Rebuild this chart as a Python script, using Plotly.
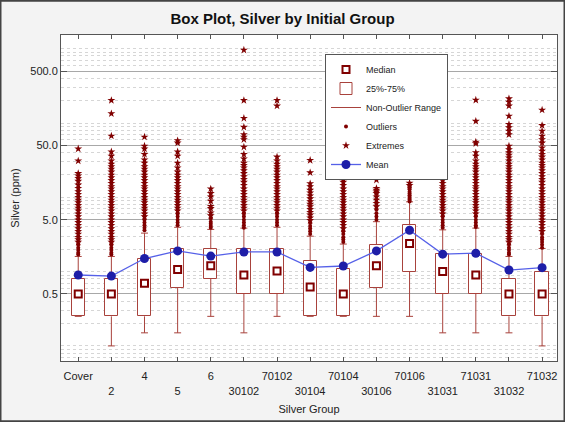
import plotly.graph_objects as go

# ---------------- data ----------------
groups = ["Cover", "2", "4", "5", "6", "30102", "70102", "30104", "70104",
          "30106", "70106", "31031", "71031", "31032", "71032"]
q1 = [0.25, 0.25, 0.25, 0.6, 0.8, 0.5, 0.5, 0.25, 0.25, 0.6, 1.0, 0.5, 0.5, 0.25, 0.25]
median = [0.5, 0.5, 0.7, 1.07, 1.2, 0.9, 1.02, 0.62, 0.5, 1.2, 2.4, 1.0, 0.9, 0.5, 0.5]
q3 = [0.8, 0.8, 1.5, 2.0, 2.0, 2.0, 2.0, 1.4, 1.1, 2.3, 4.2, 1.75, 1.75, 0.8, 1.0]
mean = [0.9, 0.87, 1.5, 1.9, 1.62, 1.84, 1.84, 1.14, 1.19, 1.9, 3.6, 1.72, 1.77, 1.05, 1.13]
upper = [1.6, 1.6, 3.3, 3.95, 3.7, 3.85, 3.95, 3.0, 2.35, 4.7, 8.7, 3.65, 3.85, 1.6, 2.05]
lower = [0.25, 0.1, 0.15, 0.15, 0.25, 0.15, 0.25, 0.25, 0.25, 0.25, 0.25, 0.15, 0.15, 0.15, 0.1]

pts_cover = [45, 31, 21, 19.5, 18, 16.5, 14.7, 13.2, 12, 11, 10, 9.2, 8.5, 7.8, 7.2, 6.6,
             6.0, 5.5, 5.0, 4.6, 4.2, 3.8, 3.5, 3.2, 2.9, 2.7, 2.5, 2.3, 2.1, 1.95, 1.8, 1.7]
pts_2 = [202, 134, 67, 41, 36, 31, 28, 26, 24, 22, 20, 18.5, 17, 15.5, 14, 13, 12, 11, 10,
         9.2, 8.5, 7.8, 7.2, 6.6, 6.0, 5.5, 5.0, 4.6, 4.2, 3.8, 3.5, 3.2, 2.9, 2.7, 2.5,
         2.3, 2.1, 1.95, 1.8, 1.7]
pts_4 = [65, 49, 45, 38, 32, 29, 26, 24, 22, 20, 18.5, 17, 15.5, 14, 13, 12, 11, 10, 9.2,
         8.5, 7.8, 7.2, 6.6, 6.0, 5.5, 5.0, 4.6, 4.2, 3.9, 3.6]
pts_5 = [58, 54, 41, 36, 29, 25, 22, 20, 18.5, 17, 15.5, 14, 13, 12, 11, 10, 9.2, 8.5, 7.8,
         7.2, 6.6, 6.0, 5.5, 5.0, 4.6, 4.2]
pts_6 = [13, 11.3, 10.2, 8.9, 7.6, 7.1, 6.2, 5.7, 5.2, 4.7, 4.4, 4.1, 3.9]
pts_30102 = [962, 202, 116, 88, 70, 65, 60, 47.6, 38, 33, 29, 27, 25, 23, 21, 19, 17.5, 16,
             14.5, 13, 12, 11, 10, 9.2, 8.5, 7.8, 7.2, 6.6, 6.0, 5.5, 5.0, 4.6, 4.2, 3.9]
pts_70102 = [202, 170, 35, 31, 28, 26, 24, 22, 20, 18.5, 17, 15.5, 14, 13, 12, 11, 10, 9.2,
             8.5, 7.8, 7.2, 6.6, 6.0, 5.5, 5.0, 4.6, 4.2]
pts_30104 = [31.5, 21.5, 15.3, 14, 12.5, 11.5, 10.5, 9.6, 8.8, 8.1, 7.5, 6.9, 6.3, 5.8, 5.3,
             4.9, 4.5, 4.1, 3.8, 3.5, 3.2]
pts_70104 = [53, 28, 21, 17.6, 16, 14.5, 13, 12, 11, 10, 9.2, 8.5, 7.8, 7.2, 6.6, 6.0, 5.5,
             5.0, 4.6, 4.2, 3.8, 3.5, 3.2, 2.9, 2.7, 2.5]
pts_30106 = [28, 21, 17.1, 13.2, 12.5, 11.9, 11.3, 10.2, 9.2, 8.3, 7.5, 6.8, 6.1, 5.5, 5.0]
pts_70106 = [29, 27, 21.5, 19.5, 15.6, 14.5, 13.8, 12.8, 11.9, 11.3, 10.7, 10.1, 9.6, 9.2, 8.8]
pts_31031 = [204, 118, 109, 99, 89, 78, 67, 60, 54, 49, 45, 41.5, 38, 36, 33, 31, 28, 26, 24,
             22, 20, 18.5, 17, 15.5, 14, 13, 12, 11, 10, 9.2, 8.5, 7.8, 7.2, 6.6, 6.0, 5.5,
             5.0, 4.6, 4.2, 3.9]
pts_71031 = [204, 106, 55.5, 53, 40, 36, 31, 28, 26, 24, 22, 20, 18.5, 17, 15.5, 14, 13, 12,
             11, 10, 9.2, 8.5, 7.8, 7.2, 6.6, 6.0, 5.5, 5.0, 4.6, 4.2, 4.0]
pts_31032 = [213, 192, 170, 124, 96, 87, 78, 70, 49, 44, 40, 37, 34, 31, 28, 26, 24, 22, 20,
             18.5, 17, 15.5, 14, 13, 12, 11, 10, 9.2, 8.5, 7.8, 7.2, 6.6, 6.0, 5.5, 5.0, 4.6,
             4.2, 3.8, 3.5, 3.2, 2.9, 2.7, 2.5, 2.3, 2.1, 1.95, 1.8, 1.7]
pts_71032 = [150, 93, 78, 67, 60, 54, 46.5, 42, 38, 35, 32, 29, 27, 25, 23, 21, 19, 17.5, 16,
             14.5, 13, 12, 11, 10, 9.2, 8.5, 7.8, 7.2, 6.6, 6.0, 5.5, 5.0, 4.6, 4.2, 3.8, 3.5,
             3.2, 2.9, 2.7, 2.5, 2.3, 2.1]
points = [pts_cover, pts_2, pts_4, pts_5, pts_6, pts_30102, pts_70102, pts_30104, pts_70104,
          pts_30106, pts_70106, pts_31031, pts_71031, pts_31032, pts_71032]

ytick_vals = [0.5, 5, 50, 500]
ytick_text = ["0.5", "5.0", "50.0", "500.0"]

# ---------------- styling ----------------
BOX = "#A8423C"
DARK = "#800000"
FONT = "Liberation Sans, Arial, sans-serif"

idx = list(range(len(groups)))
ticktext = [g if i % 2 == 0 else "<br>" + g for i, g in enumerate(groups)]

# whisker segments with caps
wx, wy = [], []
cap = 0.105
for i in idx:
    wx += [i, i, None, i - cap, i + cap, None, i, i, None, i - cap, i + cap, None]
    wy += [q3[i], upper[i], None, upper[i], upper[i], None,
           q1[i], lower[i], None, lower[i], lower[i], None]

# split outliers / extremes (extreme: beyond 3 IQR above upper quartile)
ox, oy, ex, ey = [], [], [], []
for i in idx:
    thr = q3[i] + 3 * (q3[i] - q1[i])
    for v in points[i]:
        if v > thr:
            ex.append(i); ey.append(v)
        else:
            ox.append(i); oy.append(v)

fig = go.Figure()
fig.add_trace(go.Bar(
    x=idx, y=[b - a for a, b in zip(q1, q3)], base=q1, width=0.4,
    marker=dict(color="white", line=dict(color=BOX, width=1)),
    name="25%-75%", legendrank=2))
fig.add_trace(go.Scatter(
    x=wx, y=wy, mode="lines", line=dict(color=BOX, width=1),
    name="Non-Outlier Range", legendrank=3))
fig.add_trace(go.Scatter(
    x=ox, y=oy, mode="markers", marker=dict(symbol="circle", size=4, color=DARK),
    name="Outliers", legendrank=4))
fig.add_trace(go.Scatter(
    x=ex, y=ey, mode="markers", marker=dict(symbol="star", size=6, color=DARK),
    name="Extremes", legendrank=5))
fig.add_trace(go.Scatter(
    x=idx, y=median, mode="markers",
    marker=dict(symbol="square-open", size=7, color=DARK, line=dict(width=2, color=DARK)),
    name="Median", legendrank=1))
fig.add_trace(go.Scatter(
    x=idx, y=mean, mode="lines+markers",
    line=dict(color="#5560E8", width=1.3),
    marker=dict(symbol="circle", size=9, color="#1E1EA8"),
    name="Mean", legendrank=6))

minor_vals = []
for e in range(-2, 4):
    for m in range(1, 10):
        v = m * 10 ** e
        if v not in ytick_vals and 0.06 < v < 1600:
            minor_vals.append(v)

L, R, T, B = 61, 8, 35, 61
W, H = 565, 422
pw, ph = W - L - R, H - T - B

fig.update_layout(
    width=W, height=H,
    margin=dict(l=L, r=R, t=T, b=B, pad=0),
    paper_bgcolor="#F3F3F3", plot_bgcolor="white",
    font=dict(family=FONT, size=11, color="#222"),
    title=dict(text="<b>Box Plot, Silver by Initial Group</b>", x=0.5, xref="container",
               y=1 - 19 / H, yref="container", yanchor="middle", xanchor="center",
               font=dict(size=15, color="#111", family=FONT)),
    showlegend=True,
    legend=dict(x=(325 - L) / pw, y=1 - (54 - T) / ph, xanchor="left", yanchor="top",
                bgcolor="white", bordercolor="#555", borderwidth=1,
                font=dict(size=9, color="#222"), tracegroupgap=0, itemwidth=30),
    bargap=0,
    xaxis=dict(range=[-0.52, 14.45], tickmode="array", tickvals=idx, ticktext=ticktext,
               showgrid=False, zeroline=False, showline=True, linecolor="#555",
               linewidth=1, mirror="ticks", ticks="inside", ticklen=4, tickcolor="#555",
               ticklabelstandoff=5,
               title=dict(text="Silver Group", font=dict(size=11), standoff=9)),
    yaxis=dict(type="log", range=[-1.203, 3.185], tickmode="array", tickvals=ytick_vals,
               ticktext=ytick_text, showgrid=True, gridcolor="#A8A8A8", gridwidth=1,
               zeroline=False, showline=True, linecolor="#555", linewidth=1,
               mirror="ticks", ticks="inside", ticklen=6, tickcolor="#555",
               minor=dict(tickmode="array", tickvals=minor_vals, showgrid=True,
                          gridcolor="#D6D6D6", griddash="dot", gridwidth=1, ticks=""),
               title=dict(text="Silver (ppm)", font=dict(size=11), standoff=8)),
    shapes=[dict(type="rect", xref="paper", yref="paper",
                 x0=-L / pw + 0.001, x1=1 + R / pw - 0.001,
                 y0=-B / ph + 0.002, y1=1 + T / ph - 0.002,
                 line=dict(color="#444", width=2), fillcolor="rgba(0,0,0,0)", layer="below")],
)

fig.write_html("out.html")
